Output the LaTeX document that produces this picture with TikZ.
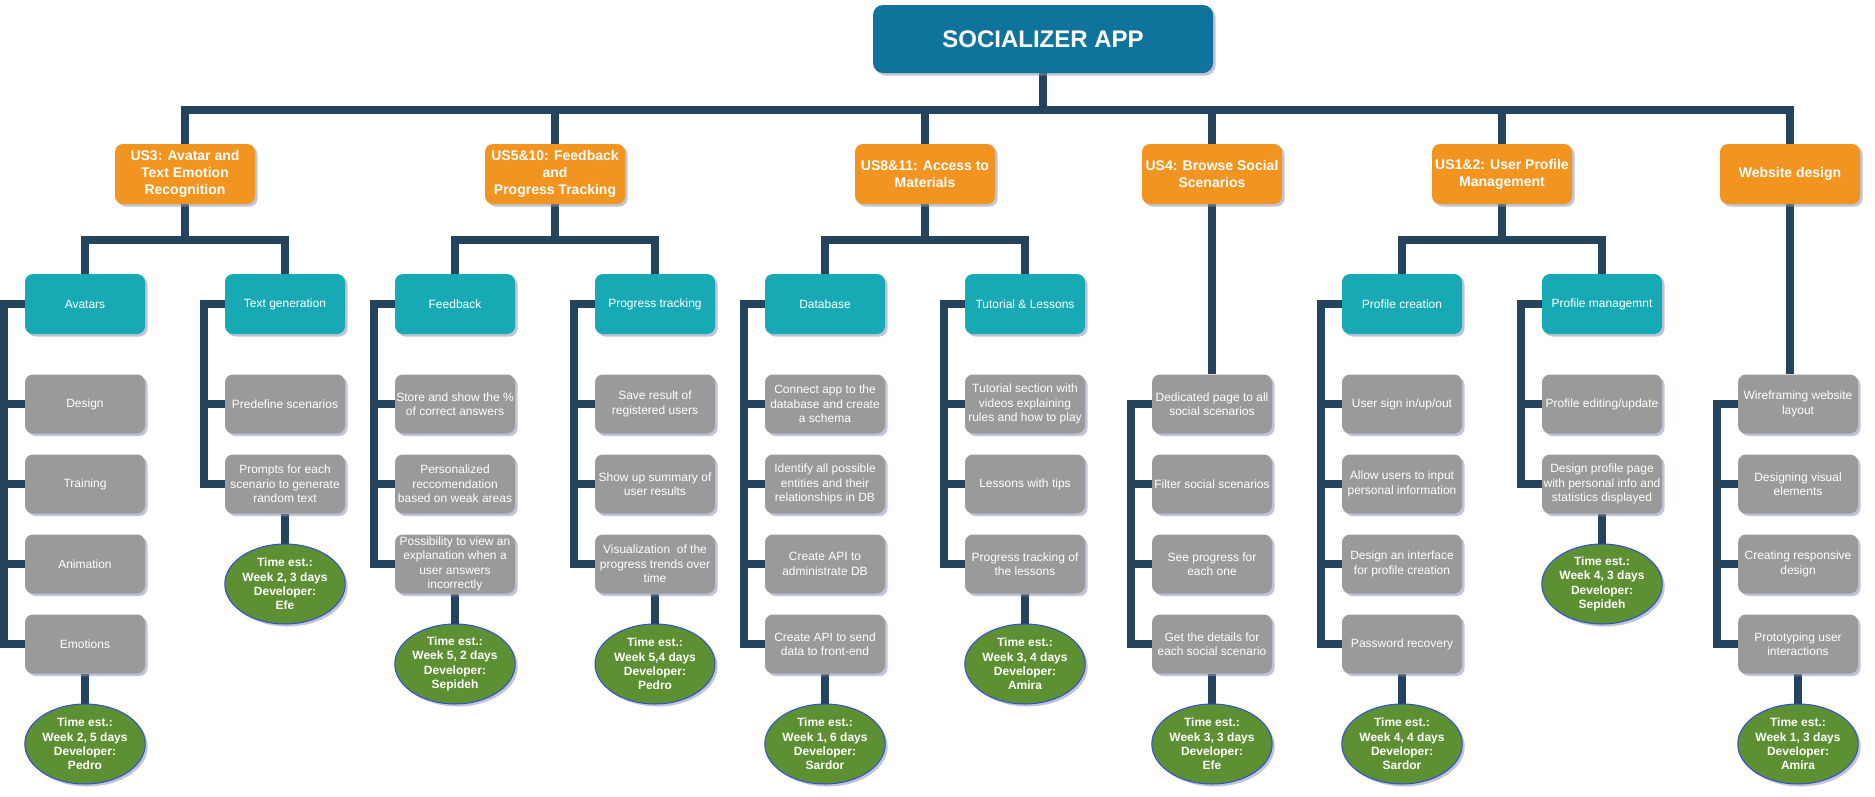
\documentclass[tikz,border=0pt]{standalone}
\usepackage{fontspec}
\setmainfont{Liberation Sans}
\usetikzlibrary{shapes.geometric,shadows}
\definecolor{linec}{HTML}{24445E}
\definecolor{rootc}{HTML}{10739C}
\definecolor{orangec}{HTML}{F29420}
\definecolor{tealc}{HTML}{17AAB5}
\definecolor{grayc}{HTML}{9A9A9A}
\definecolor{greenc}{HTML}{5C9032}
\definecolor{ellc}{HTML}{2F4FD6}
\definecolor{shadc}{HTML}{8C94B8}
\pgfdeclarelayer{bg}\pgfdeclarelayer{lines}\pgfsetlayers{bg,lines,main}
\begin{document}
\begin{tikzpicture}[x=1pt,y=-1pt,
 shad/.style={drop shadow={shadow xshift=2.5pt,shadow yshift=-2.5pt,fill=shadc,opacity=0.55}},
 rootbox/.style={shad, fill=rootc, rounded corners=10pt, minimum width=340pt, minimum height=68pt, inner sep=0pt, text=white, font=\fontsize{24}{28}\selectfont\bfseries},
 usbox/.style={shad, fill=orangec, rounded corners=8pt, minimum width=140pt, minimum height=60pt, inner sep=0pt, text=white, align=center, font=\fontsize{14}{17}\selectfont\bfseries},
 subbox/.style={shad, fill=tealc, rounded corners=8pt, minimum width=120pt, minimum height=60pt, inner sep=0pt, text=white, align=center, font=\fontsize{12}{14.5}\selectfont},
 taskbox/.style={shad, fill=grayc, rounded corners=8pt, minimum width=120pt, minimum height=59pt, inner sep=0pt, text=white, align=center, font=\fontsize{12}{14.4}\selectfont},
 estell/.style={shad, ellipse, fill=greenc, draw=ellc, line width=1pt, minimum width=120pt, minimum height=80pt, inner sep=0pt, text=white, align=center, font=\fontsize{12}{14.4}\selectfont\bfseries},
 conn/.style={draw=linec, line width=7.5pt, line join=miter}
]
\useasboundingbox (0,0) rectangle (1875,796);
\begin{pgfonlayer}{bg}
\fill[white] (0,0) rectangle (1875,796);
\end{pgfonlayer}

% root
\node[rootbox] (root) at (1043,39) {SOCIALIZER APP};

% user stories
\node[usbox] (us3) at (185,174) {US3: Avatar and\\Text Emotion\\Recognition};
\node[usbox] (us5) at (555,174) {US5\&10: Feedback\\and\\Progress Tracking};
\node[usbox] (us8) at (925,174) {US8\&11: Access to\\Materials};
\node[usbox] (us4) at (1212,174) {US4: Browse Social\\Scenarios};
\node[usbox] (us1) at (1502,174) {US1\&2: User Profile\\Management};
\node[usbox] (web) at (1790,174) {Website design};

% sub tasks
\node[subbox] (avatars) at (85,304) {Avatars};
\node[subbox] (textgen) at (285,304) {Text generation};
\node[subbox] (feedback) at (455,304) {Feedback};
\node[subbox] (progress) at (655,304) {Progress tracking};
\node[subbox] (database) at (825,304) {Database};
\node[subbox] (tutorial) at (1025,304) {Tutorial \& Lessons};
\node[subbox] (pcreate) at (1402,304) {Profile creation};
\node[subbox] (pmanage) at (1602,304) {Profile managemnt};

% column A
\node[taskbox] (a1) at (85,404) {Design};
\node[taskbox] (a2) at (85,484) {Training};
\node[taskbox] (a3) at (85,564) {Animation};
\node[taskbox] (a4) at (85,644) {Emotions};
\node[estell] (ea) at (85,744) {Time est.:\\Week 2, 5 days\\Developer:\\Pedro};
% column B
\node[taskbox] (b1) at (285,404) {Predefine scenarios};
\node[taskbox] (b2) at (285,484) {Prompts for each\\scenario to generate\\random text};
\node[estell] (eb) at (285,584) {Time est.:\\Week 2, 3 days\\Developer:\\Efe};
% column C
\node[taskbox] (c1) at (455,404) {Store and show the \%\\of correct answers};
\node[taskbox] (c2) at (455,484) {Personalized\\reccomendation\\based on weak areas};
\node[taskbox] (c3) at (455,564) {Possibility to view an\\explanation when a\\user answers\\incorrectly};
\node[estell] (ec) at (455,664) {Time est.:\\Week 5, 2 days\\Developer:\\Sepideh};
% column D
\node[taskbox] (d1) at (655,404) {Save result of\\registered users};
\node[taskbox] (d2) at (655,484) {Show up summary of\\user results};
\node[taskbox] (d3) at (655,564) {Visualization~ of the\\progress trends over\\time};
\node[estell] (ed) at (655,664) {Time est.:\\Week 5,4 days\\Developer:\\Pedro};
% column E
\node[taskbox] (e1) at (825,404) {Connect app to the\\database and create\\a schema};
\node[taskbox] (e2) at (825,484) {Identify all possible\\entities and their\\relationships in DB};
\node[taskbox] (e3) at (825,564) {Create API to\\administrate DB};
\node[taskbox] (e4) at (825,644) {Create API to send\\data to front-end};
\node[estell] (ee) at (825,744) {Time est.:\\Week 1, 6 days\\Developer:\\Sardor};
% column F
\node[taskbox] (f1) at (1025,404) {Tutorial section with\\videos explaining\\rules and how to play};
\node[taskbox] (f2) at (1025,484) {Lessons with tips};
\node[taskbox] (f3) at (1025,564) {Progress tracking of\\the lessons};
\node[estell] (ef) at (1025,664) {Time est.:\\Week 3, 4 days\\Developer:\\Amira};
% column G
\node[taskbox] (g1) at (1212,404) {Dedicated page to all\\social scenarios};
\node[taskbox] (g2) at (1212,484) {Filter social scenarios};
\node[taskbox] (g3) at (1212,564) {See progress for\\each one};
\node[taskbox] (g4) at (1212,644) {Get the details for\\each social scenario};
\node[estell] (eg) at (1212,744) {Time est.:\\Week 3, 3 days\\Developer:\\Efe};
% column H
\node[taskbox] (h1) at (1402,404) {User sign in/up/out};
\node[taskbox] (h2) at (1402,484) {Allow users to input\\personal information};
\node[taskbox] (h3) at (1402,564) {Design an interface\\for profile creation};
\node[taskbox] (h4) at (1402,644) {Password recovery};
\node[estell] (eh) at (1402,744) {Time est.:\\Week 4, 4 days\\Developer:\\Sardor};
% column I
\node[taskbox] (i1) at (1602,404) {Profile editing/update};
\node[taskbox] (i2) at (1602,484) {Design profile page\\with personal info and\\statistics displayed};
\node[estell] (ei) at (1602,584) {Time est.:\\Week 4, 3 days\\Developer:\\Sepideh};
% column J
\node[taskbox] (j1) at (1798,404) {Wireframing website\\layout};
\node[taskbox] (j2) at (1798,484) {Designing visual\\elements};
\node[taskbox] (j3) at (1798,564) {Creating responsive\\design};
\node[taskbox] (j4) at (1798,644) {Prototyping user\\interactions};
\node[estell] (ej) at (1798,744) {Time est.:\\Week 1, 3 days\\Developer:\\Amira};

\begin{pgfonlayer}{lines}
\foreach \nn in {us3,us5,us8,us4,us1,web}
  \draw[conn] (root.south) -- ++(0,37) -| (\nn.north);
\foreach \pp/\cc in {us3/avatars,us3/textgen,us5/feedback,us5/progress,us8/database,us8/tutorial,us1/pcreate,us1/pmanage}
  \draw[conn] (\pp.south) -- ++(0,36) -| (\cc.north);
\draw[conn] (us4.south) -- (g1.north);
\draw[conn] (web.south) -- (web.south |- j1.north);
% brackets
\foreach \hh/\ll in {avatars/a4,textgen/b2,feedback/c3,progress/d3,database/e4,tutorial/f3,g1/g4,pcreate/h4,pmanage/i2,j1/j4}
  \draw[conn] (\hh.west) -- ++(-21,0) |- (\ll.west);
\foreach \mm in {a1,a2,a3,b1,c1,c2,d1,d2,e1,e2,e3,f1,f2,g2,g3,h1,h2,h3,i1,j2,j3}
  \draw[conn] (\mm.west) -- ++(-21,0);
% to estimates
\foreach \ss/\ee in {a4/ea,b2/eb,c3/ec,d3/ed,e4/ee,f3/ef,g4/eg,h4/eh,i2/ei,j4/ej}
  \draw[conn] (\ss.south) -- (\ee.north);
\end{pgfonlayer}
\end{tikzpicture}
\end{document}
